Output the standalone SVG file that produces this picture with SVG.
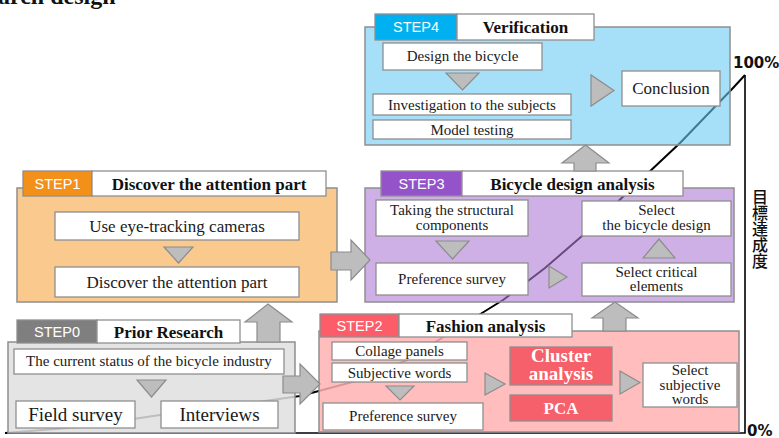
<svg xmlns="http://www.w3.org/2000/svg" width="779" height="438" viewBox="0 0 779 438">
<style>
.bx{fill:#fff;stroke:#8f8f8f;stroke-width:1.3}
.main{stroke:#8f8f8f;stroke-width:1.5}
.t{font-family:"Liberation Serif","Times New Roman",serif;font-size:15px;fill:#1a1a1a;text-anchor:middle}
.t17{font-size:17px}
.t19{font-size:19px}
.tt{font-family:"Liberation Serif","Times New Roman",serif;font-size:17px;font-weight:bold;fill:#111;text-anchor:middle}
.lbl{font-family:"Liberation Sans",Arial,sans-serif;font-size:14.5px;fill:#fff;text-anchor:middle}
.tri{fill:#bdbdbd;stroke:#8c8c8c;stroke-width:1.2}
.ax{fill:none;stroke:#000;stroke-width:1.6}
.pct{font-family:"DejaVu Sans",sans-serif;font-size:15px;font-weight:bold;fill:#111}
.wb{font-family:"Liberation Serif","Times New Roman",serif;font-weight:bold;fill:#fff;text-anchor:middle}
.jp{font-family:"Noto Sans CJK JP",sans-serif;font-size:16px;font-weight:500;fill:#111;writing-mode:vertical-rl}
</style>
<text x="-2" y="4" style="font-family:'Liberation Serif','Times New Roman',serif;font-size:24px;font-weight:bold;fill:#111">arch design</text>
<g id="chart">
<polyline class="ax" points="5,433 745,433 745,75"/>
<polyline fill="none" stroke="#000" stroke-width="2" stroke-linejoin="round" points="5,433 80,427 160,415 230,406 300,396 360,380 407,360 453,331 503,300 545,268 582,236 630,190 680,143 733,88 745,75"/>
<text class="pct" x="733" y="68">100%</text>
<text class="pct" x="747" y="436">0%</text>
<text class="jp" x="760" y="189">目標達成度</text>
</g>
<g id="step4">
<rect class="main" x="365" y="27" width="365" height="118" fill="#6bcbf3" fill-opacity="0.6"/>
<rect x="375" y="14" width="82" height="26" fill="#00b0f0" stroke="#8f8f8f" stroke-width="1.3"/>
<text class="lbl" x="416" y="32">STEP4</text>
<rect class="bx" x="457" y="14" width="137" height="26"/>
<text class="tt" x="525.5" y="33">Verification</text>
<rect class="bx" x="383" y="43" width="159" height="27"/>
<text class="t" x="462.5" y="61">Design the bicycle</text>
<rect class="bx" x="373" y="94" width="198" height="21"/>
<text class="t" x="472" y="109.5">Investigation to the subjects</text>
<rect class="bx" x="373" y="120" width="198" height="19"/>
<text class="t" x="472" y="134.5">Model testing</text>
<rect class="bx" x="622" y="71" width="98" height="35"/>
<text class="t t17" x="671" y="94">Conclusion</text>
</g>
<g id="step1">
<rect class="main" x="17" y="188" width="320" height="114" fill="#fac98d"/>
<rect x="23" y="171" width="69" height="25" fill="#f39019" stroke="#8f8f8f" stroke-width="1.3"/>
<text class="lbl" x="57.5" y="189">STEP1</text>
<rect class="bx" x="92" y="171" width="234" height="25"/>
<text class="tt" x="209" y="190">Discover the attention part</text>
<rect class="bx" x="55" y="212" width="244" height="28"/>
<text class="t t17" x="177" y="231.5">Use eye-tracking cameras</text>
<rect class="bx" x="55" y="267" width="244" height="30"/>
<text class="t t17" x="177" y="287.5">Discover the attention part</text>
</g>
<g id="step3">
<rect class="main" x="365" y="188" width="369" height="114" fill="#af7bd5" fill-opacity="0.6"/>
<rect x="381" y="171" width="81" height="25" fill="#9453c8" stroke="#8f8f8f" stroke-width="1.3"/>
<text class="lbl" x="421.5" y="189">STEP3</text>
<rect class="bx" x="462" y="171" width="221" height="25"/>
<text class="tt" x="572.5" y="190">Bicycle design analysis</text>
<rect class="bx" x="376" y="200" width="152" height="36"/>
<text class="t" x="452" y="215">Taking the structural</text>
<text class="t" x="452" y="230">components</text>
<rect class="bx" x="376" y="263" width="152" height="32"/>
<text class="t" x="452" y="284">Preference survey</text>
<rect class="bx" x="582" y="201" width="149" height="35"/>
<text class="t" x="656.5" y="215">Select</text>
<text class="t" x="656.5" y="230">the bicycle design</text>
<rect class="bx" x="582" y="263" width="149" height="33"/>
<text class="t" x="656.5" y="277">Select critical</text>
<text class="t" x="656.5" y="291">elements</text>
</g>
<g id="step2">
<rect class="main" x="319" y="331" width="420" height="101" fill="#ffb2b2" fill-opacity="0.85"/>
<rect x="320" y="314" width="79" height="23" fill="#fd5d68" stroke="#8f8f8f" stroke-width="1.3"/>
<text class="lbl" x="359.5" y="331">STEP2</text>
<rect class="bx" x="399" y="314" width="173" height="23"/>
<text class="tt" x="485.5" y="331.5">Fashion analysis</text>
<rect class="bx" x="332" y="342" width="135" height="18"/>
<text class="t" x="399.5" y="356">Collage panels</text>
<rect class="bx" x="332" y="363" width="135" height="19"/>
<text class="t" x="399.5" y="377.5">Subjective words</text>
<rect class="bx" x="323" y="403" width="160" height="27"/>
<text class="t" x="403" y="421">Preference survey</text>
<rect x="510" y="347" width="102" height="38" fill="#f5606b" stroke="#8f8f8f" stroke-width="1.3"/>
<text class="wb" x="561" y="362" style="font-size:19px">Cluster</text>
<text class="wb" x="561" y="380" style="font-size:19px">analysis</text>
<rect x="510" y="395" width="102" height="26" fill="#f5606b" stroke="#8f8f8f" stroke-width="1.3"/>
<text class="wb" x="561" y="414" style="font-size:17px">PCA</text>
<rect class="bx" x="643" y="363" width="94" height="44"/>
<text class="t" x="690" y="375">Select</text>
<text class="t" x="690" y="390">subjective</text>
<text class="t" x="690" y="404">words</text>
</g>
<g id="step0">
<rect class="main" x="8" y="342" width="287" height="91" fill="#dfdfdf" fill-opacity="0.85"/>
<rect x="17" y="320" width="80" height="23" fill="#7f7f7f" stroke="#8f8f8f" stroke-width="1.3"/>
<text class="lbl" x="57" y="337">STEP0</text>
<rect class="bx" x="97" y="320" width="143" height="23"/>
<text class="tt" x="168.5" y="337.5">Prior Research</text>
<rect class="bx" x="14" y="349" width="270" height="25"/>
<text class="t" x="149" y="366">The current status of the bicycle industry</text>
<rect class="bx" x="16" y="401" width="119" height="27"/>
<text class="t t19" x="75.5" y="421">Field survey</text>
<rect class="bx" x="161" y="401" width="117" height="27"/>
<text class="t t19" x="219.5" y="421">Interviews</text>
</g>
<g id="connectors">
<polygon class="tri" points="446,73 479,73 462.5,90"/>
<polygon class="tri" points="591,75 591,106 614,90.5"/>
<polygon class="tri" points="164,247 193,247 178.5,263"/>
<polygon class="tri" points="436,241 469,241 452.5,259"/>
<polygon class="tri" points="549,266 549,288 567,277"/>
<polygon class="tri" points="643,258 675,258 659,239"/>
<polygon class="tri" points="386,386 414,386 400,400"/>
<polygon class="tri" points="485,373 485,395 505,384"/>
<polygon class="tri" points="620,371 620,394 640,382.5"/>
<polygon class="tri" points="137,380 166,380 151.5,397"/>
<polygon class="tri" points="268,304 292,322 280,322 280,342 257,342 257,322 245,322"/>
<polygon class="tri" points="331,252 351,252 351,240 370,260 351,280 351,270 331,270"/>
<polygon class="tri" points="283,376 300,376 300,364 320,384 300,404 300,393 283,393"/>
<polygon class="tri" points="615,302 638,318 626,318 626,331 603,331 603,318 592,318"/>
<polygon class="tri" points="585.5,145 609,163 596,163 596,171 574,171 574,163 562,163"/>
</g>
</svg>
